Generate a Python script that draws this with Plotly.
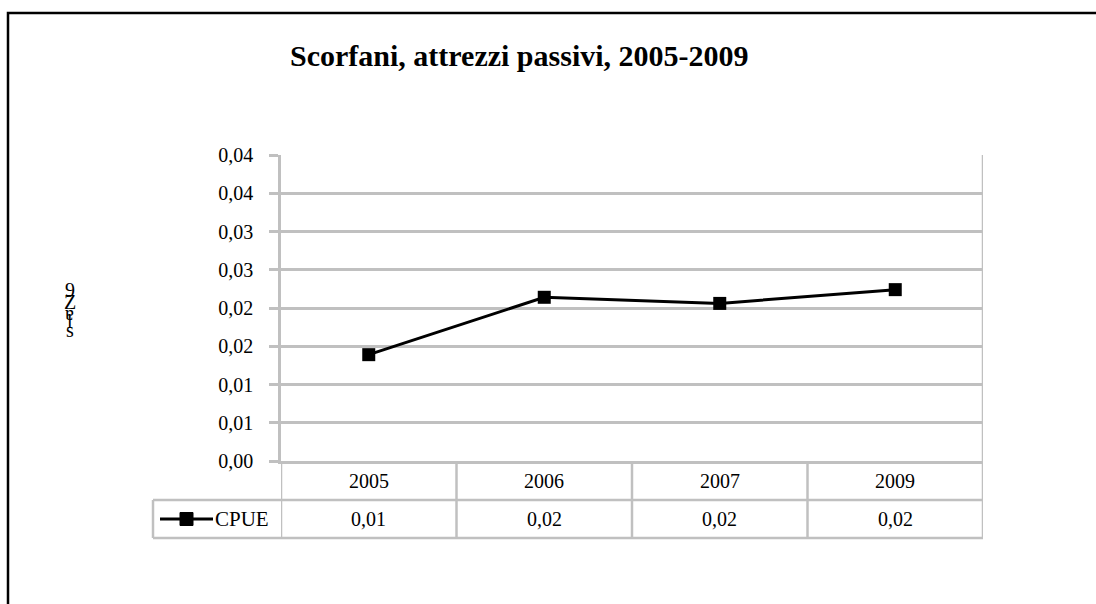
import plotly.graph_objects as go

# CPUE series by year
years = ["2005", "2006", "2007", "2009"]
cpue = [0.0139, 0.0214, 0.0206, 0.0224]
series_name = "CPUE"
title = "Scorfani, attrezzi passivi, 2005-2009"
y_tickvals = [0.0, 0.005, 0.01, 0.015, 0.02, 0.025, 0.03, 0.035, 0.04]
y_ticktext = ["0,00", "0,01", "0,01", "0,02", "0,02", "0,03", "0,03", "0,04", "0,04"]
y_title_glyphs = ["9", "Z", "ɐ", "l", "s"]

W, H = 1096, 604
L, R, T, B = 281, 983, 155, 461  # plot area in pixels
GRID = "#c0c0c0"
FONT = "Liberation Serif"


def px(x):
    return (x - L) / (R - L)


def py(y):
    return (B - y) / (B - T)


def fmt(v):
    return f"{v:.2f}".replace(".", ",")


def label(x, y, text, size, xref="paper", xanchor="center"):
    return dict(x=x, y=y, xref=xref, yref="paper", text=text, showarrow=False,
                xanchor=xanchor, yanchor="middle",
                font=dict(family=FONT, size=size, color="black"))


idx = list(range(len(years)))

fig = go.Figure()
fig.add_trace(go.Scatter(
    x=idx, y=cpue, mode="lines+markers", name=series_name,
    line=dict(color="black", width=3),
    marker=dict(symbol="square", size=13, color="black"),
    showlegend=False,
))

shapes = []
annotations = []

# outer frame
shapes.append(dict(type="rect", xref="paper", yref="paper",
                   x0=px(8), x1=px(1110), y0=py(620), y1=py(13),
                   line=dict(color="black", width=2.5), layer="above"))

# data table borders
row_mid, row_bot = 500, 538
for x0, x1, yy in [(L, R, row_mid), (153, L, row_mid), (153, R, row_bot)]:
    shapes.append(dict(type="line", xref="paper", yref="paper",
                       x0=px(x0), x1=px(x1), y0=py(yy), y1=py(yy),
                       line=dict(color=GRID, width=2.5)))
shapes.append(dict(type="line", xref="paper", yref="paper",
                   x0=px(153), x1=px(153), y0=py(row_mid), y1=py(row_bot),
                   line=dict(color=GRID, width=2.5)))
# category separators
for k in range(len(years) + 1):
    xv = k - 0.5
    top = T if k == len(years) else B
    shapes.append(dict(type="line", xref="x", yref="paper",
                       x0=xv, x1=xv, y0=py(top), y1=py(row_bot),
                       line=dict(color=GRID, width=2.5)))

# table text
for i, (yr, v) in enumerate(zip(years, cpue)):
    annotations.append(label(i, py(481), yr, 20, xref="x"))
    annotations.append(label(i, py(519), fmt(v), 20, xref="x"))

# legend key inside the table
shapes.append(dict(type="line", xref="paper", yref="paper",
                   x0=px(160), x1=px(213), y0=py(519), y1=py(519),
                   line=dict(color="black", width=3)))
shapes.append(dict(type="rect", xref="paper", yref="paper",
                   x0=px(180), x1=px(193), y0=py(525.5), y1=py(512.5),
                   fillcolor="black", line=dict(color="black", width=1)))
annotations.append(label(px(213), py(519), series_name, 21, xanchor="left"))

# title
annotations.append(label(px(519), py(55), f"<b>{title}</b>", 30))

# y-axis title glyphs, stacked
glyph_y = [290, 302, 313, 321, 330]
for g, gy in zip(y_title_glyphs, glyph_y):
    annotations.append(label(px(70), py(gy), g, 20))

fig.update_layout(
    width=W, height=H,
    margin=dict(l=L, r=W - R, t=T, b=H - B, pad=0),
    paper_bgcolor="white", plot_bgcolor="white",
    shapes=shapes, annotations=annotations,
    font=dict(family=FONT, size=20, color="black"),
    showlegend=False,
)
fig.update_xaxes(range=[-0.5, len(years) - 0.5], showticklabels=False,
                 showgrid=False, zeroline=False, showline=True,
                 linecolor=GRID, linewidth=2.5, ticks="", fixedrange=True)
fig.update_yaxes(range=[0, 0.04], tickvals=y_tickvals, ticktext=y_ticktext,
                 showgrid=True, gridcolor=GRID, gridwidth=2.5,
                 zeroline=False, showline=True, linecolor=GRID, linewidth=2.5,
                 ticks="outside", ticklen=9, tickwidth=2.5, tickcolor=GRID,
                 ticklabelstandoff=12,
                 tickfont=dict(family=FONT, size=20, color="black"),
                 fixedrange=True)

fig.write_html("out.html")
